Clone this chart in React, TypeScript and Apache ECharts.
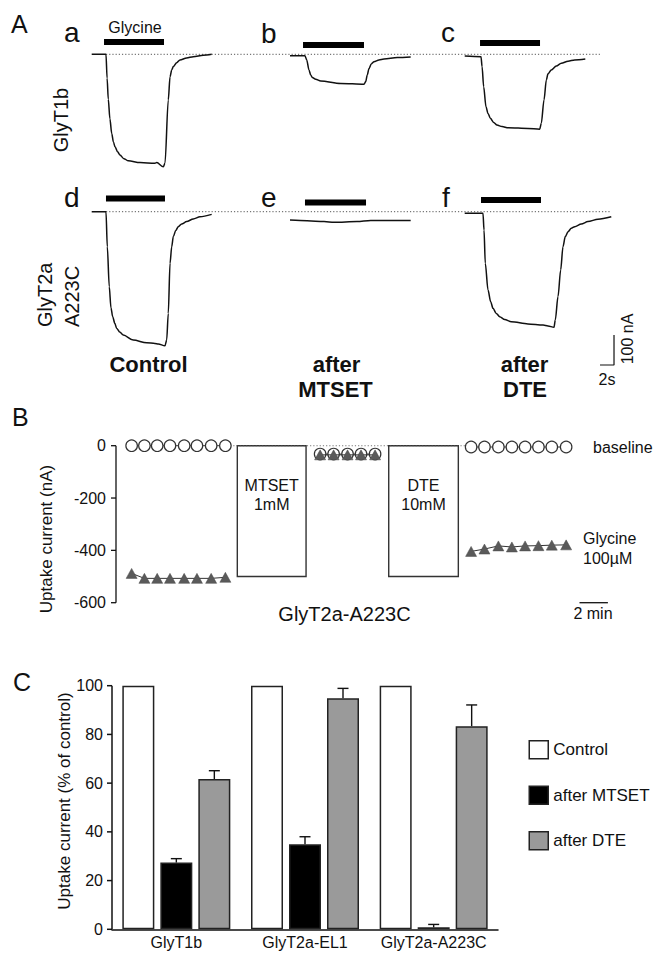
import React, { useEffect, useRef } from 'react';
import * as echarts from 'echarts';

const FONT = '"Liberation Sans", Arial, Helvetica, sans-serif';
const INK = '#111';

// ---------- Panel A: current traces, [time (s), current (nA)] ----------
const TRACE_A = [[0, 0], [2.04, 0], [2.2, -80], [2.37, -150], [2.6, -215], [2.86, -264], [3.1, -292], [3.33, -308], [3.7, -325], [4.04, -336], [4.6, -348], [5.23, -355], [6.9, -361], [9.04, -363], [9.29, -361], [10.23, -375], [10.47, -363], [10.94, -152], [11.19, -75], [11.43, -52], [11.66, -41], [12.14, -28], [12.61, -19], [13.56, -12], [14.51, -8], [15.94, -3], [17.14, 0]];
const TRACE_B = [[0, -5], [2.14, -5], [2.39, -19], [2.71, -52], [2.96, -69], [3.19, -77], [3.67, -83], [4.39, -89], [7.24, -97], [10.57, -100], [10.81, -91], [11.04, -69], [11.29, -47], [11.61, -32], [12.0, -25], [12.71, -19], [13.43, -16], [15.33, -11], [17.24, -9]];
const TRACE_C = [[0, -6], [2.33, -8], [2.48, -41], [2.71, -108], [3.04, -175], [3.33, -197], [3.66, -213], [4.14, -227], [4.61, -236], [5.33, -241], [6.23, -245], [9.04, -247], [10.71, -250], [10.94, -230], [11.33, -152], [11.66, -86], [11.9, -65], [12.37, -52], [13.09, -39], [13.8, -30], [14.76, -23], [15.71, -19], [17.23, -16]];
const TRACE_D = [[0, 0], [2.04, 0], [2.23, -117], [2.51, -250], [2.75, -320], [3.0, -350], [3.3, -372], [3.57, -389], [4.0, -401], [4.51, -411], [5.94, -428], [7.86, -437], [9.04, -439], [9.51, -441], [10.47, -447], [10.71, -428], [10.94, -339], [11.19, -172], [11.43, -117], [11.66, -83], [12.0, -63], [12.37, -50], [12.85, -41], [13.57, -33], [14.51, -24], [15.47, -17], [17.14, -9]];
const TRACE_E = [[0, -28], [2.43, -30], [4.86, -33], [6.29, -35], [9.57, -33], [11.53, -29], [17.24, -29]];
const TRACE_F = [[0, -5], [2.61, -5], [2.76, -61], [2.94, -172], [3.33, -261], [3.71, -300], [4.04, -322], [4.51, -339], [5.0, -350], [5.71, -359], [6.66, -367], [9.04, -374], [11.19, -378], [11.9, -381], [12.76, -385], [12.94, -361], [13.33, -283], [13.71, -194], [14.04, -117], [14.37, -83], [14.76, -67], [15.23, -55], [15.71, -50], [16.66, -41], [17.61, -33], [19.04, -25], [20.94, -17]];
const TRACES = [TRACE_A, TRACE_B, TRACE_C, TRACE_D, TRACE_E, TRACE_F];
const PANEL_LETTERS = ['a', 'b', 'c', 'd', 'e', 'f'];

// Glycine application bars (s) and the level they are drawn at (nA)
const GLY_ON = [1.76, 1.86, 2.19, 2.04, 2.14, 2.33];
const GLY_OFF = [10.33, 10.57, 10.76, 10.47, 10.86, 10.9];
const GLY_LEVEL = [41, 31, 38, 44, 31, 39];

// Dotted zero-current baseline per row (s)
const ROW_BASE_START = [2.04, 2.04];
const ROW_BASE_END = [72.6, 74.2];

// Scale bar (in panel f): 2 s, 100 nA
const SCALE_T = [19.33, 21.33];
const SCALE_I = [-511, -411];

// ---------- Panel B: uptake current over time (min, nA) ----------
const B_T_LEFT = [1.1, 2.0, 2.9, 3.8, 4.8, 5.7, 6.7, 7.7];
const B_BASE_LEFT = [0, 0, 0, 0, 0, 0, 0, 0];
const B_GLY_LEFT = [-488, -507, -507, -507, -507, -507, -507, -503];
const B_T_MID = [14.37, 15.32, 16.3, 17.25, 18.24];
const B_BASE_MID = [-32, -32, -32, -32, -32];
const B_GLY_MID = [-35, -35, -35, -35, -35];
const B_T_RIGHT = [25.0, 25.94, 26.92, 27.87, 28.8, 29.74, 30.68, 31.69];
const B_BASE_RIGHT = [-5, -5, -5, -5, -5, -5, -5, -5];
const B_GLY_RIGHT = [-404, -395, -383, -387, -383, -382, -380, -379];
const B_TREAT_LABEL = ['MTSET\n1mM', 'DTE\n10mM'];
const B_TREAT_START = [8.54, 19.2];
const B_TREAT_END = [13.38, 24.1];
const B_TREAT_LEVEL = -500;
const B_ZERO_LINE = [8.03, 24.65];
const B_SCALE_T = [32.63, 34.63];
const B_TICKS = [0, -200, -400, -600];

// ---------- Panel C: % of control ----------
const C_CATS = ['GlyT1b', 'GlyT2a-EL1', 'GlyT2a-A223C'];
const C_CONTROL = [100, 100, 100];
const C_MTSET = [27.4, 34.9, 0.8];
const C_MTSET_ERR = [1.6, 3.1, 1.2];
const C_DTE = [61.7, 94.8, 83.4];
const C_DTE_ERR = [3.4, 4.1, 8.7];
const C_TICKS = [0, 20, 40, 60, 80, 100];

// ---------- layout ----------
const PX_PER_S = 7;
const PX_PER_NA = 0.3;
const A_T_MAX = 22;
const A_Y_MAX = 60;
const A_Y_MIN = -520;
const PANEL_X0 = [91.7, 290, 464.7];
const ROW_BASE_Y = [54.3, 211.7];
const ROW_T_MAX = 76;
const BAR_W = 32;
const BAR_GAP = 6;
const C_LEFT = 112;
const C_WIDTH = 386;

function txt(text: string, x: number, y: number, size: number, opts: any = {}) {
  return {
    type: 'text',
    x,
    y,
    rotation: opts.rot || 0,
    silent: true,
    style: {
      text,
      fontSize: size,
      fontFamily: FONT,
      fontWeight: opts.bold ? 'bold' : 'normal',
      fill: INK,
      align: opts.align || 'center',
      verticalAlign: 'middle',
    },
  };
}

// vertical segment (axis line) from value y1 to y2 at x, shifted by offset px
function vSegSeries(idx: number, items: number[][], offset: number, width: number) {
  return {
    type: 'custom',
    xAxisIndex: idx,
    yAxisIndex: idx,
    data: items,
    encode: { x: 0, y: [1, 2] },
    z: 5,
    renderItem: (params: any, api: any) => {
      const p0 = api.coord([api.value(0), api.value(1)]);
      const p1 = api.coord([api.value(0), api.value(2)]);
      const x = p0[0] + offset;
      return {
        type: 'group',
        children: [
          { type: 'line', shape: { x1: x, y1: p0[1], x2: x, y2: p1[1] }, style: { stroke: INK, lineWidth: width } },
        ],
      };
    },
  };
}

// outward tick marks at each tick value
function tickSeries(idx: number, ticks: number[], offset: number, width: number) {
  return {
    type: 'custom',
    xAxisIndex: idx,
    yAxisIndex: idx,
    data: ticks.map((v) => [0, v, v]),
    encode: { x: 0, y: [1, 2] },
    z: 5,
    renderItem: (params: any, api: any) => {
      const p0 = api.coord([api.value(0), api.value(1)]);
      const x = p0[0] + offset;
      return {
        type: 'group',
        children: [
          { type: 'line', shape: { x1: x - 5, y1: p0[1], x2: x, y2: p0[1] }, style: { stroke: INK, lineWidth: width } },
        ],
      };
    },
  };
}

function buildOption() {
  const grid: any[] = [];
  const xAxis: any[] = [];
  const yAxis: any[] = [];
  const series: any[] = [];

  // Panel A trace grids 0..5
  for (let i = 0; i < 6; i++) {
    const row = Math.floor(i / 3);
    const col = i % 3;
    grid.push({
      left: PANEL_X0[col],
      top: ROW_BASE_Y[row] - A_Y_MAX * PX_PER_NA,
      width: A_T_MAX * PX_PER_S,
      height: (A_Y_MAX - A_Y_MIN) * PX_PER_NA,
    });
    xAxis.push({ type: 'value', gridIndex: i, min: 0, max: A_T_MAX, show: false });
    yAxis.push({ type: 'value', gridIndex: i, min: A_Y_MIN, max: A_Y_MAX, show: false });
    series.push({
      type: 'line',
      name: 'trace-' + PANEL_LETTERS[i],
      xAxisIndex: i,
      yAxisIndex: i,
      data: TRACES[i],
      symbol: 'none',
      smooth: 0.3,
      smoothMonotone: 'x',
      clip: false,
      lineStyle: { color: INK, width: 1.5 },
      z: 3,
    });
    series.push({
      type: 'line',
      name: 'glycine-' + PANEL_LETTERS[i],
      xAxisIndex: i,
      yAxisIndex: i,
      data: [[GLY_ON[i], GLY_LEVEL[i]], [GLY_OFF[i], GLY_LEVEL[i]]],
      symbol: 'none',
      clip: false,
      lineStyle: { color: '#000', width: 6, cap: 'butt' },
      z: 3,
    });
  }
  // scale bar in panel f
  series.push({
    type: 'line',
    xAxisIndex: 5,
    yAxisIndex: 5,
    data: [[SCALE_T[0], SCALE_I[0]], [SCALE_T[1], SCALE_I[0]], [SCALE_T[1], SCALE_I[1]]],
    symbol: 'none',
    clip: false,
    lineStyle: { color: INK, width: 1.2 },
  });

  // Row baseline grids 6,7
  for (let r = 0; r < 2; r++) {
    const gi = 6 + r;
    grid.push({
      left: PANEL_X0[0],
      top: ROW_BASE_Y[r] - A_Y_MAX * PX_PER_NA,
      width: ROW_T_MAX * PX_PER_S,
      height: (A_Y_MAX - A_Y_MIN) * PX_PER_NA,
    });
    xAxis.push({ type: 'value', gridIndex: gi, min: 0, max: ROW_T_MAX, show: false });
    yAxis.push({ type: 'value', gridIndex: gi, min: A_Y_MIN, max: A_Y_MAX, show: false });
    series.push({
      type: 'line',
      xAxisIndex: gi,
      yAxisIndex: gi,
      data: [[ROW_BASE_START[r], 0], [ROW_BASE_END[r], 0]],
      symbol: 'none',
      lineStyle: { color: '#555', width: 1, type: [1.2, 2] },
      z: 1,
    });
  }

  // Panel B grid 8
  const bMin = Math.min(...B_TICKS);
  const bMax = Math.max(...B_TICKS);
  grid.push({ left: 116, top: 445.7, width: 500, height: 157 });
  xAxis.push({ type: 'value', gridIndex: 8, min: 0, max: 35.2, show: false });
  yAxis.push({
    type: 'value',
    gridIndex: 8,
    position: 'left',
    min: bMin,
    max: bMax,
    interval: 200,
    axisLine: { show: false },
    axisTick: { show: false },
    splitLine: { show: false },
    axisLabel: { show: true, fontSize: 16, color: INK, fontFamily: FONT, margin: 10 },
  });
  const zip = (t: number[], v: number[]) => t.map((x, i) => [x, v[i]]);
  series.push({
    type: 'line',
    xAxisIndex: 8,
    yAxisIndex: 8,
    data: [[B_ZERO_LINE[0], 0], [B_ZERO_LINE[1], 0]],
    symbol: 'none',
    lineStyle: { color: '#555', width: 1, type: [1.2, 2] },
    z: 1,
    markArea: {
      silent: true,
      itemStyle: { color: '#fff', borderColor: '#333', borderWidth: 1.4 },
      label: {
        show: true,
        position: 'insideTop',
        distance: 31,
        color: INK,
        fontSize: 16,
        lineHeight: 19,
        fontFamily: FONT,
      },
      data: B_TREAT_LABEL.map((name, i) => [
        { name, coord: [B_TREAT_START[i], 0] },
        { coord: [B_TREAT_END[i], B_TREAT_LEVEL] },
      ]),
    },
  });
  const circleSeries = (t: number[], v: number[]) => ({
    type: 'line',
    xAxisIndex: 8,
    yAxisIndex: 8,
    data: zip(t, v),
    symbol: 'circle',
    symbolSize: 11.5,
    clip: false,
    itemStyle: { color: '#fff', borderColor: '#333', borderWidth: 1.2 },
    lineStyle: { color: '#333', width: 1 },
    z: 3,
  });
  const triSeries = (t: number[], v: number[]) => ({
    type: 'line',
    xAxisIndex: 8,
    yAxisIndex: 8,
    data: zip(t, v),
    symbol: 'triangle',
    symbolSize: [11, 10],
    clip: false,
    itemStyle: { color: '#5a5a5a', borderColor: '#4a4a4a', borderWidth: 0.5 },
    lineStyle: { color: '#333', width: 1 },
    z: 4,
  });
  series.push(circleSeries(B_T_LEFT, B_BASE_LEFT));
  series.push(circleSeries(B_T_MID, B_BASE_MID));
  series.push(circleSeries(B_T_RIGHT, B_BASE_RIGHT));
  series.push(triSeries(B_T_LEFT, B_GLY_LEFT));
  series.push(triSeries(B_T_MID, B_GLY_MID));
  series.push(triSeries(B_T_RIGHT, B_GLY_RIGHT));
  series.push({
    type: 'line',
    xAxisIndex: 8,
    yAxisIndex: 8,
    data: [[B_SCALE_T[0], bMin], [B_SCALE_T[1], bMin]],
    symbol: 'none',
    clip: false,
    lineStyle: { color: INK, width: 1.3 },
  });
  // y-axis line of panel B (at time 0) and its ticks
  series.push(vSegSeries(8, [[0, bMin, bMax]], 0, 1.3));
  series.push(tickSeries(8, B_TICKS, 0, 1.3));

  // Panel C grid 9
  grid.push({ left: C_LEFT, top: 685.7, width: C_WIDTH, height: 243.6 });
  xAxis.push({
    type: 'category',
    gridIndex: 9,
    data: C_CATS,
    axisLine: { show: true, onZero: false, lineStyle: { color: INK, width: 1.5 } },
    axisTick: { show: false },
    axisLabel: { fontSize: 16, color: INK, fontFamily: FONT, margin: 5, interval: 0 },
  });
  yAxis.push({
    type: 'value',
    gridIndex: 9,
    position: 'left',
    min: 0,
    max: 100,
    interval: 20,
    axisLine: { show: false },
    axisTick: { show: false },
    splitLine: { show: false },
    axisLabel: { show: true, fontSize: 16, color: INK, fontFamily: FONT, margin: 9 },
  });
  const barBase = {
    type: 'bar',
    xAxisIndex: 9,
    yAxisIndex: 9,
    barWidth: BAR_W,
    barGap: (BAR_GAP / BAR_W) * 100 + '%',
  };
  series.push({ ...barBase, name: 'Control', data: C_CONTROL, itemStyle: { color: '#fff', borderColor: '#222', borderWidth: 1.5 } });
  series.push({ ...barBase, name: 'after MTSET', data: C_MTSET, itemStyle: { color: '#000', borderColor: '#222', borderWidth: 1.5 } });
  series.push({ ...barBase, name: 'after DTE', data: C_DTE, itemStyle: { color: '#9a9a9a', borderColor: '#222', borderWidth: 1.5 } });
  const errSeries = (means: number[], errs: number[], offset: number) => ({
    type: 'custom',
    xAxisIndex: 9,
    yAxisIndex: 9,
    data: means.map((m, i) => [i, m, m + errs[i]]),
    encode: { x: 0, y: [1, 2] },
    z: 5,
    renderItem: (params: any, api: any) => {
      const p0 = api.coord([api.value(0), api.value(1)]);
      const p1 = api.coord([api.value(0), api.value(2)]);
      const x = p0[0] + offset;
      return {
        type: 'group',
        children: [
          { type: 'line', shape: { x1: x, y1: p0[1], x2: x, y2: p1[1] }, style: { stroke: INK, lineWidth: 1.4 } },
          { type: 'line', shape: { x1: x - 5.5, y1: p1[1], x2: x + 5.5, y2: p1[1] }, style: { stroke: INK, lineWidth: 1.4 } },
        ],
      };
    },
  });
  series.push(errSeries(C_MTSET, C_MTSET_ERR, 0));
  series.push(errSeries(C_DTE, C_DTE_ERR, BAR_W + BAR_GAP));
  // y-axis line of panel C at the left edge of the first category band, and its ticks
  const cHalfBand = C_WIDTH / C_CATS.length / 2;
  series.push(vSegSeries(9, [[0, Math.min(...C_TICKS), Math.max(...C_TICKS)]], -cHalfBand, 1.5));
  series.push(tickSeries(9, C_TICKS, -cHalfBand, 1.5));

  const graphic = [
    txt('A', 11, 24, 25, { align: 'left' }),
    txt('a', 64, 32, 28, { align: 'left' }),
    txt('b', 261, 33, 28, { align: 'left' }),
    txt('c', 441, 32, 28, { align: 'left' }),
    txt('d', 64, 197, 28, { align: 'left' }),
    txt('e', 261, 197, 28, { align: 'left' }),
    txt('f', 442, 197, 28, { align: 'left' }),
    txt('Glycine', 135, 27.5, 16),
    txt('GlyT1b', 60.5, 120, 20, { rot: Math.PI / 2 }),
    txt('GlyT2a', 45.4, 327, 20, { rot: Math.PI / 2, align: 'left' }),
    txt('A223C', 72.4, 327, 20, { rot: Math.PI / 2, align: 'left' }),
    txt('Control', 148.5, 364, 22, { bold: true }),
    txt('after', 336.5, 364, 22, { bold: true }),
    txt('MTSET', 335.5, 389, 22, { bold: true }),
    txt('after', 524.5, 364, 22, { bold: true }),
    txt('DTE', 525, 389, 22, { bold: true }),
    txt('100 nA', 627.4, 339, 16, { rot: Math.PI / 2 }),
    txt('2s', 607, 379, 16),
    txt('B', 12, 417, 25, { align: 'left' }),
    txt('Uptake current (nA)', 46.3, 539, 17, { rot: Math.PI / 2 }),
    txt('baseline', 593, 447, 16, { align: 'left' }),
    txt('Glycine', 583, 538.5, 16, { align: 'left' }),
    txt('100µM', 583, 558.5, 16, { align: 'left' }),
    txt('GlyT2a-A223C', 344.5, 614, 20),
    txt('2 min', 593, 613.5, 16),
    txt('C', 13, 682, 25, { align: 'left' }),
    txt('Uptake current (% of control)', 64.5, 801, 17, { rot: Math.PI / 2 }),
  ];

  return {
    animation: false,
    backgroundColor: '#fff',
    textStyle: { fontFamily: FONT },
    grid,
    xAxis,
    yAxis,
    series,
    legend: {
      data: ['Control', 'after MTSET', 'after DTE'],
      orient: 'vertical',
      left: 528.5,
      top: 740,
      padding: 0,
      itemWidth: 19,
      itemHeight: 18,
      itemGap: 26,
      icon: 'rect',
      selectedMode: false,
      itemStyle: { borderColor: '#222', borderWidth: 1.5 },
      textStyle: { fontSize: 17, color: INK, fontFamily: FONT },
    },
    graphic,
  };
}

export default function App() {
  const ref = useRef<HTMLDivElement>(null);
  useEffect(() => {
    if (!ref.current) return;
    const chart = echarts.init(ref.current, null, { renderer: 'svg' });
    chart.setOption(buildOption() as any);
    return () => chart.dispose();
  }, []);
  return (
    <div
      ref={ref}
      style={{ position: 'absolute', left: 0, top: 0, width: 672, height: 959, background: '#fff' }}
    />
  );
}
